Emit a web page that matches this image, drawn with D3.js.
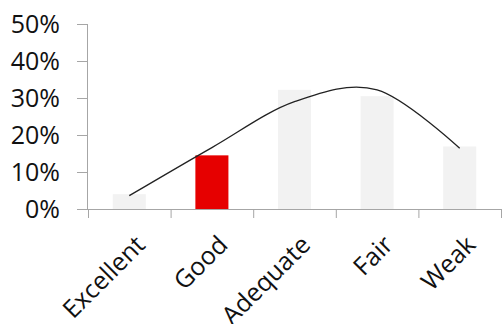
<!DOCTYPE html>
<html><head><meta charset="utf-8">
<script src="https://cdn.jsdelivr.net/npm/d3@7"></script>
<style>body{margin:0;background:#fff}svg{display:block}</style>
</head><body>
<svg id="c" width="502" height="324"></svg>
<script>
const categories = ["Excellent", "Good", "Adequate", "Fair", "Weak"];
const barValues = [0.04, 0.145, 0.322, 0.305, 0.169];
const curveValues = [0.036, 0.166, 0.29, 0.322, 0.164];
const highlight = ["Good"];
const yTicks = [0, 0.1, 0.2, 0.3, 0.4, 0.5];

const svg = d3.select("#c");
const x0 = 88, x1 = 501, yBottom = 209, yTop = 24;
const font = "'Open Sans', sans-serif";

const x = d3.scaleBand().domain(categories).range([x0, x1]).paddingInner(0.6).paddingOuter(0.3);
const xb = d3.scaleLinear().domain([0, categories.length]).range([x0, x1]);
const y = d3.scaleLinear().domain([0, 0.5]).range([yBottom, yTop]);

// bars
svg.append("g").selectAll("rect").data(categories).join("rect")
  .attr("x", d => x(d)).attr("width", x.bandwidth())
  .attr("y", (d, i) => y(barValues[i]))
  .attr("height", (d, i) => y(0) - y(barValues[i]))
  .attr("fill", d => highlight.includes(d) ? "#E60000" : "#F2F2F2");

// y axis
const ya = svg.append("g").attr("transform", `translate(${x0},0)`)
  .call(d3.axisLeft(y).tickValues(yTicks).tickFormat(d3.format(".0%")).tickSize(11).tickPadding(17));
ya.select(".domain").attr("stroke", "#A6A6A6").attr("d", `M-0.5,${yTop}V${yBottom}`);
ya.selectAll(".tick line").attr("stroke", "#A6A6A6");
ya.selectAll("text").attr("font-family", font).attr("font-size", 25).attr("fill", "#111");

// x axis boundary ticks
const xa = svg.append("g").attr("transform", `translate(0,${yBottom})`)
  .call(d3.axisBottom(xb).tickValues(d3.range(categories.length + 1)).tickFormat("").tickSize(9));
xa.select(".domain").attr("stroke", "#A6A6A6").attr("d", `M${x0},0.5H${x1}`);
xa.selectAll(".tick line").attr("stroke", "#A6A6A6");

// x labels
svg.append("g").selectAll("text").data(categories).join("text")
  .attr("transform", d => `translate(${x(d) + x.bandwidth() / 2 + 5},${yBottom + 25}) rotate(-45)`)
  .attr("text-anchor", "end").attr("dy", "0.7em")
  .attr("font-family", font).attr("font-size", 25).attr("fill", "#111")
  .text(d => d);

// smooth curve
const line = d3.line()
  .x((d, i) => x(categories[i]) + x.bandwidth() / 2)
  .y(d => y(d))
  .curve(d3.curveCatmullRom.alpha(0));
svg.append("path").datum(curveValues).attr("d", line)
  .attr("fill", "none").attr("stroke", "#222").attr("stroke-width", 1.3);
</script>
</body></html>
